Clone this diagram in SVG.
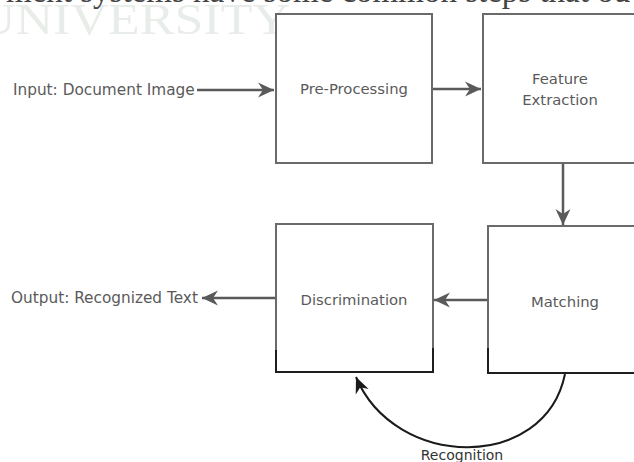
<svg xmlns="http://www.w3.org/2000/svg" width="634" height="462" viewBox="0 0 634 462">
  <defs>
    <style>
      .box { fill: #ffffff; stroke: #6a6a6a; stroke-width: 2; }
      .dark { fill: none; stroke: #1e1e1e; stroke-width: 2; }
      .lbl { font-family: "DejaVu Sans", Verdana, sans-serif; font-size: 14.8px; fill: #5a5a5a; text-anchor: middle; }
      .side { font-family: "DejaVu Sans", Verdana, sans-serif; font-size: 15.3px; fill: #5a5a5a; }
      .conn { fill: none; stroke: #5a5a5a; stroke-width: 2.5; marker-end: url(#ah); }
      .curve { fill: none; stroke: #1a1a1a; stroke-width: 2; marker-end: url(#ahb); }
    </style>
    <marker id="ah" markerUnits="userSpaceOnUse" markerWidth="18" markerHeight="18" refX="16" refY="8" orient="auto">
      <path d="M0,0.5 L16,8 L0,15.5 L5,8 Z" fill="#5a5a5a"/>
    </marker>
    <marker id="ahb" markerUnits="userSpaceOnUse" markerWidth="18" markerHeight="18" refX="16" refY="8" orient="auto">
      <path d="M0,1 L16,8 L0,15 L5,8 Z" fill="#1a1a1a"/>
    </marker>
  </defs>
  <rect width="634" height="462" fill="#ffffff"/>

  <g id="background-text">
    <text x="-22" y="34" font-family="Liberation Serif, serif" font-size="45" fill="#e9ede9" textLength="312" lengthAdjust="spacingAndGlyphs">UNIVERSITY</text>
    <text x="6" y="1.5" font-family="Liberation Serif, serif" font-size="33" fill="#444444">ment systems have some common steps that ou</text>
  </g>

  <g id="connectors">
    <line class="conn" x1="197" y1="90" x2="274" y2="90"/>
    <line class="conn" x1="433" y1="89" x2="481" y2="89"/>
    <line class="conn" x1="563" y1="164" x2="563" y2="225"/>
    <line class="conn" x1="487" y1="300" x2="434" y2="300"/>
    <line class="conn" x1="275" y1="298" x2="202" y2="298"/>
    <path class="curve" d="M565,374 C545,472 395,470 356,377"/>
  </g>

  <g id="input">
    <text class="side" x="13" y="95">Input: Document Image</text>
  </g>

  <g id="pre-processing">
    <rect class="box" x="276" y="14" width="156" height="149"/>
    <text class="lbl" x="354" y="94">Pre-Processing</text>
  </g>

  <g id="feature-extraction">
    <rect class="box" x="483" y="14" width="160" height="149"/>
    <text class="lbl" x="560" y="84">Feature</text>
    <text class="lbl" x="560" y="105">Extraction</text>
  </g>

  <g id="matching">
    <rect class="box" x="488" y="226" width="160" height="147"/>
    <path class="dark" d="M488,348 V373 H640"/>
    <text class="lbl" x="565" y="307">Matching</text>
  </g>

  <g id="discrimination">
    <rect class="box" x="276" y="224" width="157" height="148"/>
    <path class="dark" d="M276,350 V372 H433 V348"/>
    <text class="lbl" x="354" y="305">Discrimination</text>
  </g>

  <g id="output">
    <text class="side" x="11" y="303">Output: Recognized Text</text>
  </g>

  <g id="recognition-label">
    <text x="462" y="460" font-family="DejaVu Sans, Verdana, sans-serif" font-size="14" fill="#333333" text-anchor="middle">Recognition</text>
  </g>
</svg>
